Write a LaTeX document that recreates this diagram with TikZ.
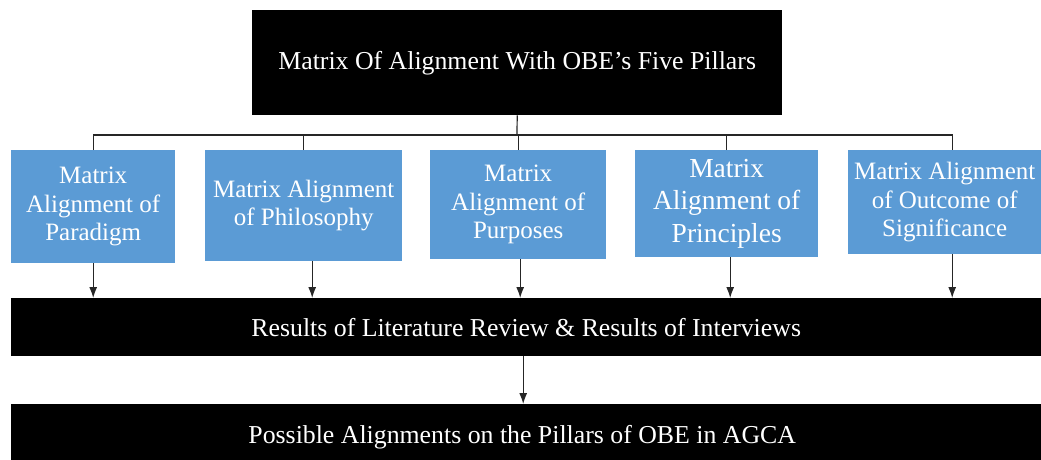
\documentclass[tikz,border=0pt]{standalone}
\usepackage{fontspec}
\setmainfont{Liberation Serif}
\usetikzlibrary{arrows.meta}
\definecolor{pillarblue}{RGB}{91,155,213}

\begin{document}
\begin{tikzpicture}[x=1pt, y=-1pt,
  blackbar/.style = {fill=black, text=white, inner sep=0pt, anchor=north west,
    font=\fontsize{25.8}{28}\selectfont},
  pillar/.style = {fill=pillarblue, text=white, align=center, inner sep=0pt,
    anchor=north west, font=\fontsize{25}{28.5}\selectfont},
  link/.style = {line width=1.2pt, black!85},
  arr/.style = {link, -{Latex[length=11pt,width=8pt]}}
]
\useasboundingbox (0,0) rectangle (1041,459);

\node [blackbar, minimum width=530pt, minimum height=105pt] (head) at (252,10)
  {Matrix Of Alignment With OBE’s Five Pillars};

\node [pillar, minimum width=164pt, minimum height=113pt] (p1) at (11,150)
  {Matrix\\Alignment of\\Paradigm};
\node [pillar, minimum width=197pt, minimum height=111pt] (p2) at (205,150)
  {Matrix Alignment\\of Philosophy};
\node [pillar, minimum width=176pt, minimum height=109pt] (p3) at (430,150)
  {Matrix\\Alignment of\\Purposes};
\node [pillar, minimum width=183pt, minimum height=107pt,
  font=\fontsize{27.5}{32.5}\selectfont] (p4) at (635,150)
  {Matrix\\Alignment of\\Principles};
\node [pillar, minimum width=193pt, minimum height=104pt] (p5) at (848,150)
  {Matrix Alignment\\of Outcome of\\Significance};

\node [blackbar, minimum width=1030pt, minimum height=58pt] (res) at (11,298)
  {Results of Literature Review \& Results of Interviews};
\node [blackbar, minimum width=1030pt, minimum height=66pt] (poss) at (11,404)
  {\hspace*{-8pt}Possible Alignments on the Pillars of OBE in AGCA};

\coordinate (bus) at (517,135);
\draw [link] (head.south) -- (bus);
\draw [link] (p1.north) |- (bus) -| ([xshift=7.5pt]p5.north);
\draw [link] (p2.north) -- (p2.north |- bus);
\draw [link] (p3.north) -- (p3.north |- bus);
\draw [link] (p4.north) -- (p4.north |- bus);

\draw [arr] (p1.south) -- (p1.south |- res.north);
\draw [arr] ([xshift=8.5pt]p2.south) -- ([xshift=8.5pt]p2.south |- res.north);
\draw [arr] ([xshift=2pt]p3.south) -- ([xshift=2pt]p3.south |- res.north);
\draw [arr] ([xshift=3.5pt]p4.south) -- ([xshift=3.5pt]p4.south |- res.north);
\draw [arr] ([xshift=7.5pt]p5.south) -- ([xshift=7.5pt]p5.south |- res.north);

\draw [arr] ([xshift=-3pt]res.south) -- ([xshift=-3pt]res.south |- poss.north);
\end{tikzpicture}
\end{document}
